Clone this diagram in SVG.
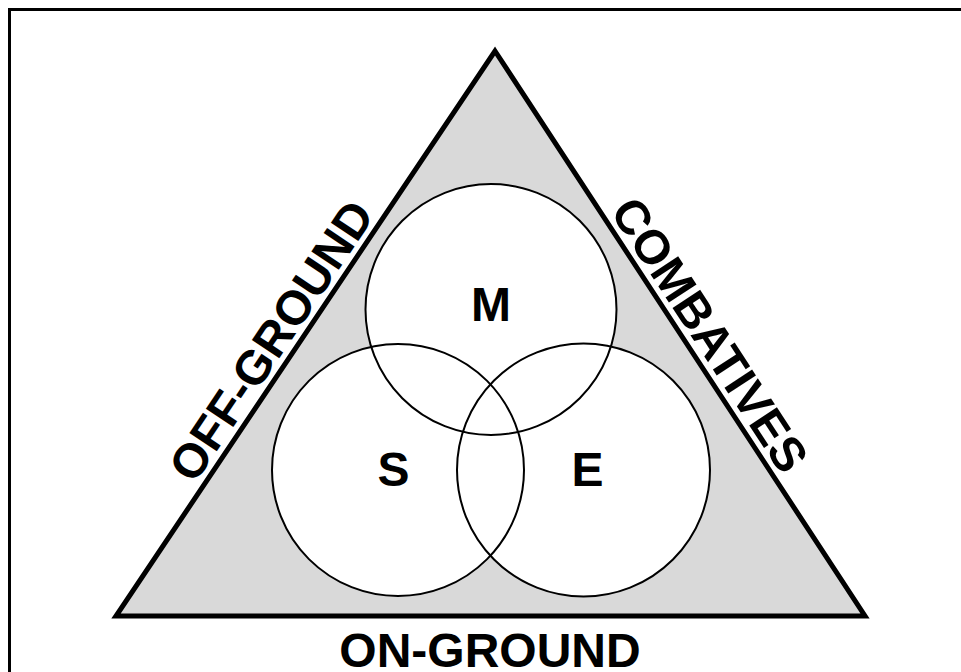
<svg xmlns="http://www.w3.org/2000/svg" width="961" height="672" viewBox="0 0 961 672">
<style>
.lbl{font-family:"Liberation Sans",Arial,sans-serif;font-weight:bold;font-size:48px;fill:#000;text-anchor:middle}
.circ{fill:#fff;fill-opacity:0;stroke:#000;stroke-width:2}
</style>
<rect x="0" y="0" width="961" height="672" fill="#fff"/>
<rect x="9.5" y="9.5" width="1000" height="1000" fill="none" stroke="#000" stroke-width="3"/>
<g id="triangle">
<polygon points="495,51 865,616 116,616" fill="#d9d9d9" stroke="#000" stroke-width="5" stroke-linejoin="miter" stroke-miterlimit="10"/>
</g>
<g id="circle-fills">
<circle cx="491" cy="309.5" r="125.5" fill="#fff"/>
<circle cx="398" cy="470" r="126" fill="#fff"/>
<circle cx="583.5" cy="470" r="126.5" fill="#fff"/>
</g>
<g id="node-M">
<circle class="circ" cx="491" cy="309.5" r="125.5"/>
<text class="lbl" x="491" y="321">M</text>
</g>
<g id="node-S">
<circle class="circ" cx="398" cy="470" r="126"/>
<text class="lbl" x="393.5" y="486">S</text>
</g>
<g id="node-E">
<circle class="circ" cx="583.5" cy="470" r="126.5"/>
<text class="lbl" x="587.5" y="486">E</text>
</g>
<g id="connectors"></g>
<g id="side-labels">
<text class="lbl" transform="translate(285,350) rotate(-56.1)" x="0" y="0">OFF-GROUND</text>
<text class="lbl" transform="translate(696,344) rotate(56.8)" x="0" y="0">COMBATIVES</text>
<text class="lbl" x="490" y="667">ON-GROUND</text>
</g>
</svg>
